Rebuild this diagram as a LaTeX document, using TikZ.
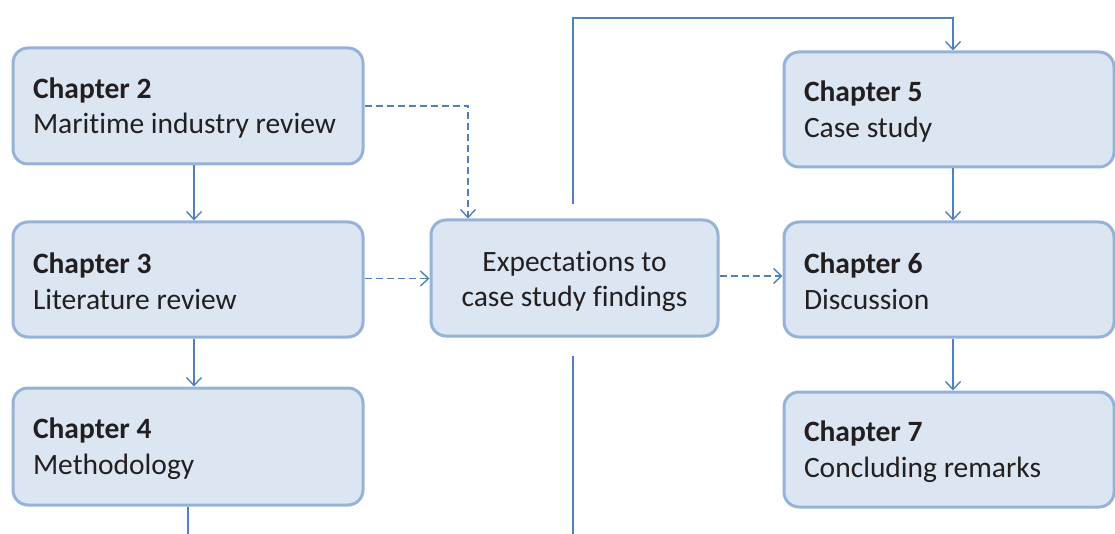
\documentclass[tikz,border=0pt]{standalone}
\usepackage{fontspec}
\setmainfont{Carlito}[Ligatures=NoCommon]
\usetikzlibrary{arrows.meta}

\definecolor{boxfill}{HTML}{DCE6F2}
\definecolor{boxline}{HTML}{95B3D7}
\definecolor{connline}{HTML}{4F81BD}
\definecolor{inktext}{HTML}{231F20}

% raises the top of the first line so the text sits a little lower
\newcommand{\toplift}[1]{\rule{0pt}{#1}}

\tikzset{
  chapbox/.style={draw=boxline, fill=boxfill, line width=3pt,
    rounded corners=15pt, rectangle, inner xsep=20pt, inner ysep=0pt,
    font=\fontsize{29.5}{35.3}\selectfont, text=inktext},
  leftbox/.style={chapbox, minimum width=350pt, text width=310pt, align=flush left},
  rightbox/.style={chapbox, minimum width=330pt, text width=290pt, align=flush left},
  midbox/.style={chapbox, minimum width=287pt, text width=247pt, align=flush center},
  conn/.style={draw=connline, line width=1.4pt},
  arr/.style={conn, -{Straight Barb[length=8pt,width=15pt,line width=1.4pt]}},
  darr/.style={arr, dash pattern=on 7pt off 4pt}
}

\begin{document}
\begin{tikzpicture}[x=1pt, y=-1pt]
  \useasboundingbox (0,0) rectangle (1115,534);

  % left column
  \node[leftbox, minimum height=116pt] (c2) at (188,106)
    {\toplift{25pt}\textbf{Chapter 2}\\\mbox{Maritime industry review}};
  \node[leftbox, minimum height=115pt] (c3) at (188,279.5)
    {\toplift{24pt}\textbf{Chapter 3}\\\mbox{Literature review}};
  \node[leftbox, minimum height=117pt] (c4) at (188,446.5)
    {\toplift{25pt}\textbf{Chapter 4}\\\mbox{Methodology}};

  % middle
  \node[midbox, minimum height=116pt] (ex) at (574.5,278)
    {\toplift{27pt}Expectations to\\\mbox{case study findings}};

  % right column
  \node[rightbox, minimum height=115pt] (c5) at (949,109.5)
    {\toplift{25pt}\textbf{Chapter 5}\\\mbox{Case study}};
  \node[rightbox, minimum height=115pt] (c6) at (949,279.5)
    {\toplift{24pt}\textbf{Chapter 6}\\\mbox{Discussion}};
  \node[rightbox, minimum height=115pt] (c7) at (949,449.5)
    {\toplift{25pt}\textbf{Chapter 7}\\\mbox{Concluding remarks}};

  % guide coordinates for connector columns
  \coordinate (lx) at (194,0);
  \coordinate (rx) at (953,0);
  \coordinate (dx) at (468,0);
  \coordinate (c4out) at (188,534);
  \coordinate (upfree) at (573,204);
  \coordinate (topbend) at (573,18);
  \coordinate (lowstart) at (573,356);
  \coordinate (lowend) at (573,534);

  % solid flow arrows
  \draw[arr] (c2.south -| lx) -- (c3.north -| lx);
  \draw[arr] (c3.south -| lx) -- (c4.north -| lx);
  \draw[conn] (c4.south -| c4out) -- (c4out);
  \draw[arr] (c5.south -| rx) -- (c6.north -| rx);
  \draw[arr] (c6.south -| rx) -- (c7.north -| rx);
  \draw[arr] (upfree) -- (topbend) -| (c5.north -| rx);
  \draw[conn] (lowstart) -- (lowend);

  % dashed links through the expectations box
  \draw[darr] (c2.east) -| (ex.north -| dx);
  \draw[darr] ([yshift=1pt]c3.east) -- ([yshift=1pt]c3.east -| ex.west);
  \draw[darr] ([yshift=2pt]ex.east) -- ([yshift=2pt]ex.east -| c6.west);
\end{tikzpicture}
\end{document}
